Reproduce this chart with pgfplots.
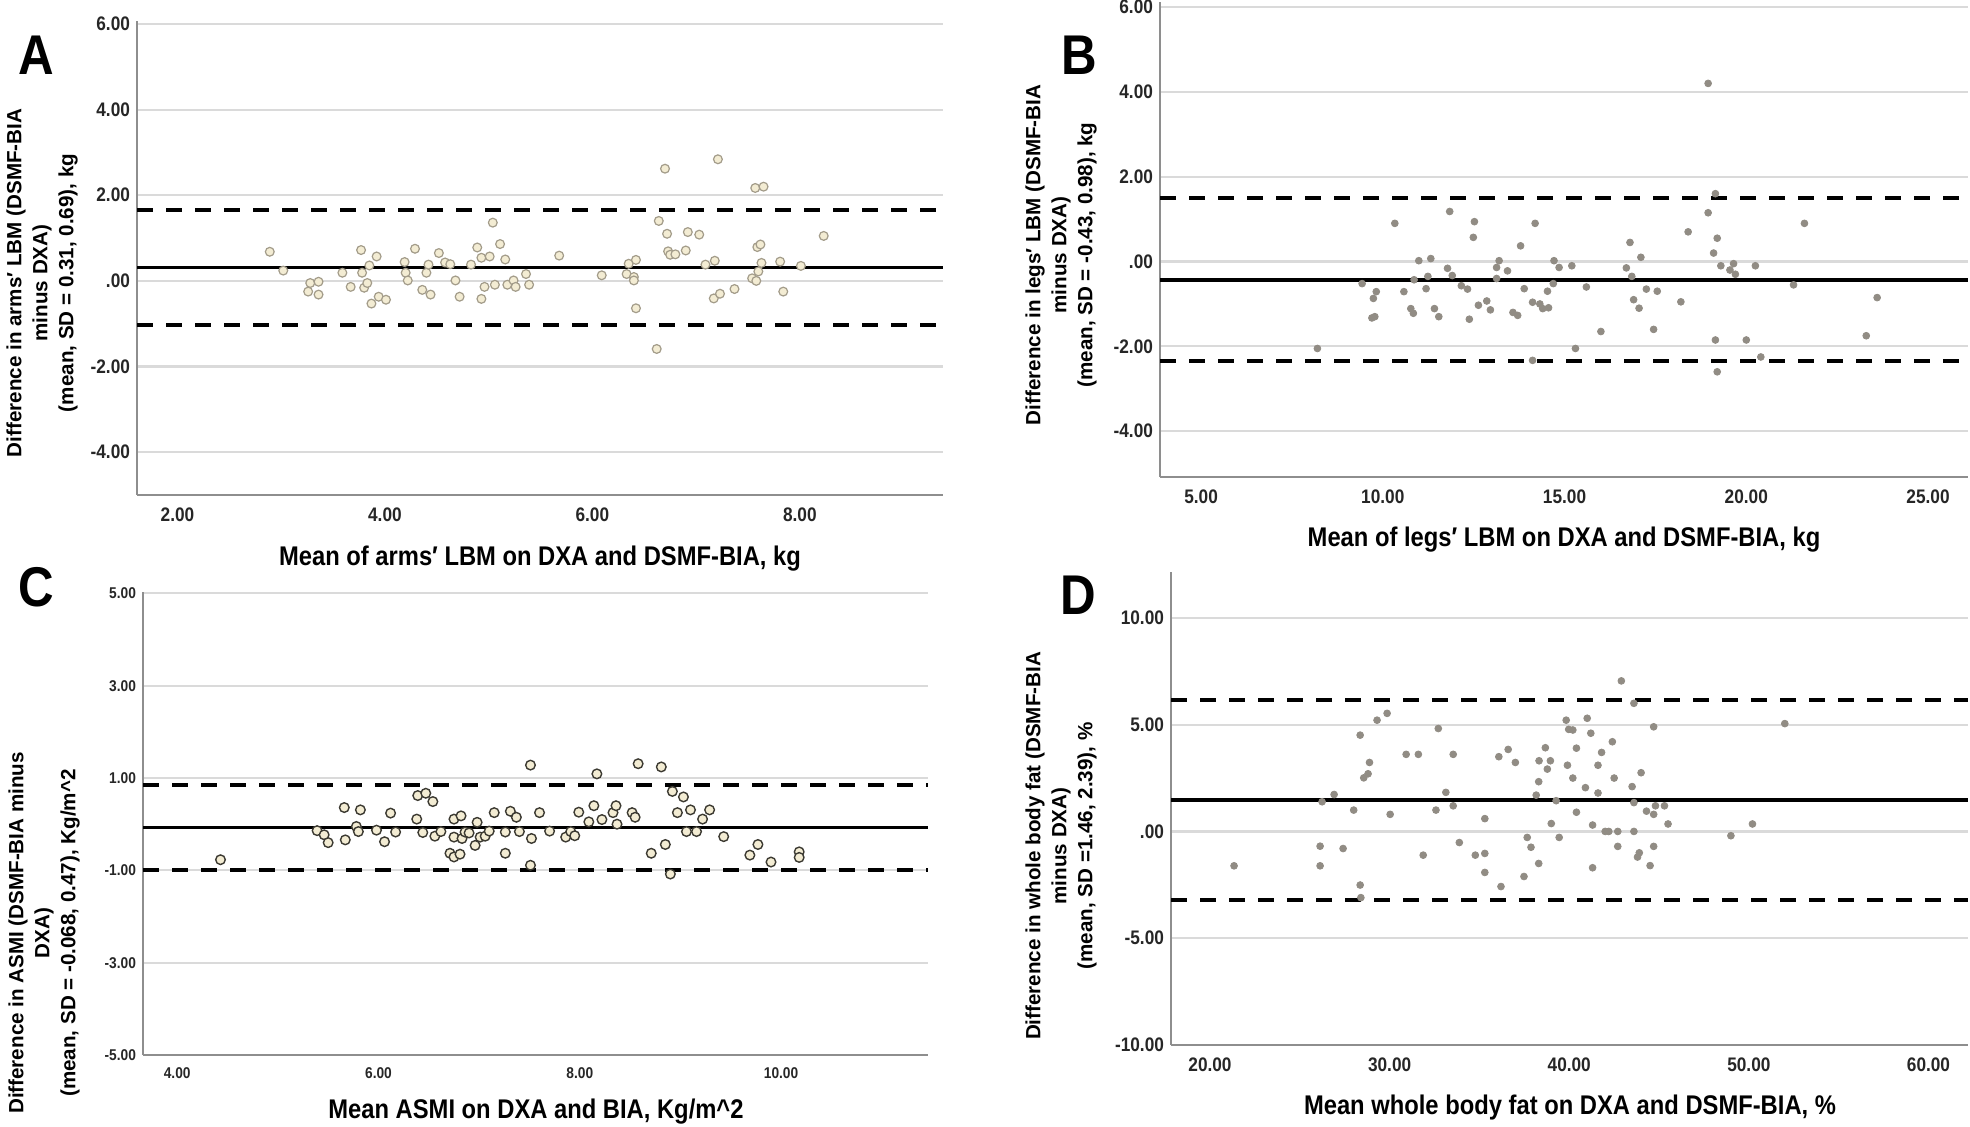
\documentclass[border=0pt]{standalone}
\usepackage{fontspec}
\setmainfont{Liberation Sans}
\newfontfamily\narrow[FakeStretch=0.88]{Liberation Sans}
\usepackage{pgfplots}
\pgfplotsset{compat=1.18}

\definecolor{gridgray}{HTML}{DADADA}
\definecolor{axisgray}{HTML}{8E8E8E}
\definecolor{creamfill}{HTML}{F3ECD3}
\definecolor{creamedge}{HTML}{A39C8A}
\definecolor{dotgray}{HTML}{918C84}
\definecolor{cedge}{HTML}{3C3A32}

\newcommand\ticks{\narrow\bfseries\fontsize{9.8}{9.8}\selectfont}
\newcommand\ttl{\narrow\bfseries\fontsize{13.5}{14}\selectfont}
\newcommand\ytl{\bfseries\fontsize{10.3}{13}\selectfont}
\newcommand\letter{\narrow\bfseries\fontsize{28}{28}\selectfont}

\pgfplotsset{
  ba/.style={
    scale only axis, anchor=south west,
    axis x line=bottom, axis y line=left,
    axis line style={-, draw=axisgray, line width=0.8pt},
    major tick length=0pt,
    ymajorgrids, grid style={draw=gridgray, line width=1.1pt},
    tick label style={font=\ticks, text=black!85},
    xticklabel style={yshift=-3pt},
  },
  meanline/.style={black, line width=1.8pt, no marks},
  loaline/.style={black, line width=2pt, no marks, dash pattern=on 8pt off 6.5pt},
  opencream/.style={only marks, mark=*, mark size=2.2pt,
    mark options={fill=creamfill, draw=creamedge, line width=0.6pt}},
  openc/.style={only marks, mark=*, mark size=2.4pt,
    mark options={fill=creamfill, draw=cedge, line width=0.7pt}},
  dots/.style={only marks, mark=*, mark size=1.7pt,
    mark options={fill=dotgray, draw=dotgray}},
}

\begin{document}
\begin{tikzpicture}
\path[use as bounding box] (0,0) rectangle (985pt,563.5pt);

% ---------------- A: arms
\begin{axis}[ba, at={(68.5pt,316pt)}, width=403pt, height=237pt,
  xmin=1.61, xmax=9.38, ymin=-5, ymax=6.07,
  xtick={2,4,6,8}, xticklabels={2.00,4.00,6.00,8.00},
  ytick={-4,-2,0,2,4,6}, yticklabels={-4.00,-2.00,.00,2.00,4.00,6.00}]
\addplot[loaline] coordinates {(1.61,1.66) (9.38,1.66)};
\addplot[loaline] coordinates {(1.61,-1.04) (9.38,-1.04)};
\addplot[meanline] coordinates {(1.61,0.31) (9.38,0.31)};
\addplot[opencream] table {
2.89 0.68
3.02 0.24
3.26 -0.25
3.28 -0.05
3.36 -0.02
3.36 -0.32
3.59 0.19
3.67 -0.14
3.77 0.72
3.78 0.19
3.80 -0.16
3.83 -0.05
3.85 0.36
3.87 -0.53
3.92 0.57
3.94 -0.37
4.01 -0.44
4.19 0.44
4.20 0.19
4.22 0.01
4.29 0.75
4.36 -0.21
4.40 0.19
4.42 0.38
4.44 -0.32
4.52 0.65
4.58 0.43
4.63 0.39
4.68 0.01
4.72 -0.37
4.83 0.38
4.89 0.78
4.93 0.54
4.93 -0.42
4.96 -0.14
5.01 0.57
5.04 1.36
5.06 -0.09
5.11 0.86
5.16 0.50
5.18 -0.09
5.24 0.01
5.26 -0.14
5.36 0.16
5.39 -0.09
5.68 0.59
6.09 0.13
6.33 0.16
6.35 0.40
6.40 0.09
6.40 0.01
6.42 0.49
6.42 -0.64
6.62 -1.59
6.64 1.40
6.70 2.62
6.72 1.10
6.73 0.69
6.75 0.61
6.80 0.62
6.90 0.71
6.92 1.14
7.03 1.08
7.09 0.38
7.17 -0.41
7.18 0.47
7.21 2.84
7.23 -0.30
7.37 -0.19
7.54 0.06
7.57 2.17
7.65 2.20
7.59 0.79
7.62 0.85
7.60 0.22
7.63 0.42
7.58 0.00
7.81 0.45
7.84 -0.25
8.01 0.35
8.23 1.05
};
\end{axis}

% ---------------- B: legs
\begin{axis}[ba, at={(580pt,325pt)}, width=404pt, height=237.5pt,
  xmin=3.87, xmax=26.1, ymin=-5.08, ymax=6.12,
  xtick={5,10,15,20,25}, xticklabels={5.00,10.00,15.00,20.00,25.00},
  ytick={-4,-2,0,2,4,6}, yticklabels={-4.00,-2.00,.00,2.00,4.00,6.00}]
\addplot[loaline] coordinates {(3.87,1.49) (26.1,1.49)};
\addplot[loaline] coordinates {(3.87,-2.35) (26.1,-2.35)};
\addplot[meanline] coordinates {(3.87,-0.43) (26.1,-0.43)};
\addplot[dots] table {
8.2 -2.05
9.43 -0.52
9.82 -0.71
9.74 -0.87
9.78 -1.30
9.70 -1.33
10.33 0.90
10.58 -0.71
10.77 -1.11
10.84 -1.22
10.99 0.02
10.86 -0.43
11.19 -0.64
11.24 -0.35
11.32 0.07
11.42 -1.11
11.54 -1.30
11.78 -0.16
11.84 1.18
11.91 -0.33
12.16 -0.57
12.38 -1.36
12.33 -0.65
12.49 0.57
12.52 0.94
12.63 -1.03
12.86 -0.93
12.96 -1.14
13.13 -0.14
13.20 0.02
13.13 -0.40
13.43 -0.22
13.58 -1.20
13.71 -1.27
13.79 0.37
13.89 -0.64
14.19 0.90
14.12 -0.96
14.32 -1.00
14.40 -1.11
14.56 -1.09
14.53 -0.70
14.71 0.02
14.85 -0.14
14.69 -0.52
14.12 -2.33
15.2 -0.10
15.3 -2.05
15.6 -0.60
16.0 -1.65
16.7 -0.15
16.8 0.45
16.85 -0.35
16.9 -0.90
17.05 -1.10
17.1 0.10
17.25 -0.65
17.45 -1.60
17.55 -0.70
18.2 -0.95
18.4 0.70
18.95 1.15
18.95 4.20
19.1 0.20
19.15 1.60
19.15 -1.85
19.2 -2.60
19.2 0.55
19.3 -0.10
19.55 -0.20
19.65 -0.05
19.7 -0.30
20.0 -1.85
20.25 -0.10
20.4 -2.25
21.3 -0.55
21.6 0.90
23.3 -1.75
23.6 -0.85
};
\end{axis}

% ---------------- C: ASMI
\begin{axis}[ba, at={(71.5pt,36pt)}, width=392.5pt, height=231.5pt,
  xmin=3.66, xmax=11.46, ymin=-5, ymax=5.03,
  tick label style={font=\narrow\bfseries\fontsize{7.8}{7.8}\selectfont, text=black!85},
  xtick={4,6,8,10}, xticklabels={4.00,6.00,8.00,10.00},
  ytick={-5,-3,-1,1,3,5}, yticklabels={-5.00,-3.00,-1.00,1.00,3.00,5.00}]
\addplot[loaline] coordinates {(3.66,0.853) (11.46,0.853)};
\addplot[loaline] coordinates {(3.66,-0.989) (11.46,-0.989)};
\addplot[meanline] coordinates {(3.66,-0.068) (11.46,-0.068)};
\addplot[openc] table {
4.43 -0.77
5.39 -0.14
5.46 -0.23
5.50 -0.40
5.66 0.36
5.67 -0.34
5.78 -0.05
5.80 -0.16
5.82 0.31
5.98 -0.13
6.06 -0.38
6.12 0.24
6.17 -0.17
6.38 0.11
6.39 0.62
6.47 0.67
6.44 -0.18
6.54 0.49
6.56 -0.26
6.62 -0.16
6.71 -0.63
6.75 -0.71
6.81 -0.65
6.75 0.11
6.75 -0.28
6.82 0.18
6.83 -0.31
6.86 -0.17
6.90 -0.19
6.96 -0.46
6.98 0.04
7.01 -0.28
7.06 -0.26
7.10 -0.15
7.15 0.25
7.26 -0.63
7.26 -0.17
7.31 0.28
7.37 0.15
7.40 -0.16
7.51 1.28
7.52 -0.31
7.51 -0.89
7.60 0.25
7.70 -0.15
7.86 -0.28
7.91 -0.16
7.95 -0.25
7.99 0.26
8.09 0.05
8.14 0.40
8.17 1.09
8.22 0.10
8.33 0.25
8.36 0.40
8.37 0.00
8.52 0.25
8.55 0.15
8.58 1.31
8.71 -0.63
8.81 1.24
8.85 -0.44
8.90 -1.08
8.92 0.71
8.97 0.25
9.03 0.59
9.06 -0.16
9.10 0.31
9.16 -0.16
9.22 0.11
9.29 0.31
9.43 -0.27
9.69 -0.67
9.77 -0.44
9.90 -0.82
10.18 -0.60
10.18 -0.72
};
\end{axis}

% ---------------- D: whole body fat
\begin{axis}[ba, at={(585.5pt,41pt)}, width=398.5pt, height=236.5pt,
  xmin=17.83, xmax=62.2, ymin=-10, ymax=12.15,
  xtick={20,30,40,50,60}, xticklabels={20.00,30.00,40.00,50.00,60.00},
  ytick={-10,-5,0,5,10}, yticklabels={-10.00,-5.00,.00,5.00,10.00}]
\addplot[loaline] coordinates {(17.83,6.14) (62.2,6.14)};
\addplot[loaline] coordinates {(17.83,-3.22) (62.2,-3.22)};
\addplot[meanline] coordinates {(17.83,1.46) (62.2,1.46)};
\addplot[dots] table {
21.34 -1.61
26.13 -0.69
26.13 -1.61
26.24 1.39
26.91 1.73
27.41 -0.80
28.00 1.00
28.36 4.51
28.56 2.51
28.80 2.70
28.88 3.23
28.36 -2.51
28.40 -3.10
29.30 5.21
29.86 5.53
30.03 0.80
30.92 3.61
31.60 3.61
31.87 -1.11
32.58 1.00
32.71 4.82
33.13 1.83
33.54 3.61
33.54 1.20
33.88 -0.52
34.77 -1.11
35.30 -1.03
35.30 -1.92
35.30 0.60
36.08 3.50
36.60 3.84
36.20 -2.58
37.00 3.23
37.48 -2.11
37.66 -0.28
37.87 -0.74
38.16 1.70
38.30 2.33
38.32 3.31
38.30 -1.50
38.67 3.92
38.78 2.92
38.95 3.31
39.00 0.37
39.44 -0.28
39.27 1.44
39.83 5.21
39.97 4.78
40.2 4.75
40.4 3.90
39.9 3.10
40.2 2.50
40.4 0.90
40.9 2.05
41.0 5.30
41.2 4.60
41.3 0.30
41.3 -1.70
41.6 3.10
41.6 1.80
41.8 3.70
42.0 0.00
42.2 0.00
42.4 4.20
42.5 2.50
42.7 0.00
42.7 -0.70
42.9 7.05
43.6 6.00
43.5 2.10
43.6 1.35
43.6 0.00
43.8 -1.20
43.9 -1.00
44.0 2.75
44.3 0.95
44.5 -1.60
44.7 0.80
44.7 4.90
44.7 -0.70
44.8 1.20
45.3 1.20
45.5 0.35
49.0 -0.20
50.2 0.35
52.0 5.05
};
\end{axis}

% ---------------- axis titles
\node[font=\ttl] at (270pt,284pt) {Mean of arms′ LBM on DXA and DSMF-BIA, kg};
\node[font=\ttl] at (782pt,293.5pt) {Mean of legs′ LBM on DXA and DSMF-BIA, kg};
\node[font=\ttl] at (268pt,7.5pt) {Mean ASMI on DXA and BIA, Kg/m\^{}2};
\node[font=\ttl] at (785pt,9.5pt) {Mean whole body fat on DXA and DSMF-BIA, \%};

\node[font=\ytl, rotate=90, align=center] at (21pt,422pt)
  {Difference in arms′ LBM (DSMF-BIA\\minus DXA)\\(mean, SD = 0.31, 0.69), kg};
\node[font=\ytl, rotate=90, align=center] at (530.5pt,436pt)
  {Difference in legs′ LBM (DSMF-BIA\\minus DXA)\\(mean, SD = -0.43, 0.98), kg};
\node[font=\ytl, rotate=90, align=center] at (22pt,97pt)
  {Difference in ASMI (DSMF-BIA minus\\DXA)\\(mean, SD = -0.068, 0.47), Kg/m\^{}2};
\node[font=\ytl, rotate=90, align=center] at (530.5pt,140.5pt)
  {Difference in whole body fat (DSMF-BIA\\minus DXA)\\(mean, SD =1.46, 2.39), \%};

% ---------------- panel letters
\node[font=\letter] at (18pt,536pt) {A};
\node[font=\letter] at (539.5pt,536pt) {B};
\node[font=\letter] at (18pt,270pt) {C};
\node[font=\letter] at (539pt,266pt) {D};
\end{tikzpicture}
\end{document}
